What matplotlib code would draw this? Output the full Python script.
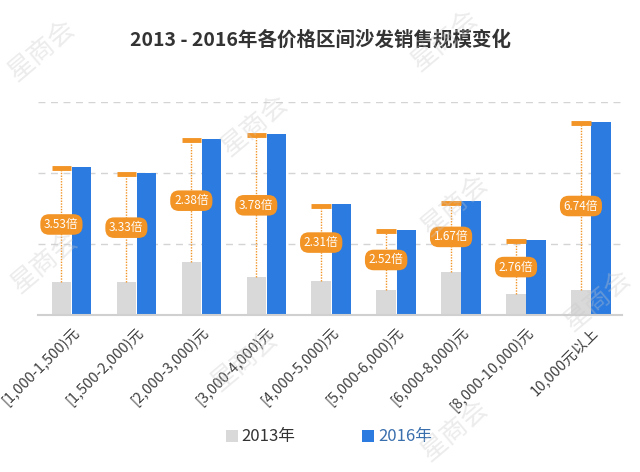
import numpy as np
import matplotlib
matplotlib.use('Agg')
from matplotlib import pyplot as plt

plt.rcParams['font.family'] = ['Noto Sans CJK SC', 'DejaVu Sans']

# Data (gridline spacing = 1 unit, no y labels shown)
categories = ['[1,000-1,500)元', '[1,500-2,000)元', '[2,000-3,000)元', '[3,000-4,000)元',
              '[4,000-5,000)元', '[5,000-6,000)元', '[6,000-8,000)元', '[8,000-10,000)元',
              '10,000元以上']
sales_2013 = [0.46, 0.46, 0.74, 0.54, 0.48, 0.35, 0.60, 0.29, 0.35]
sales_2016 = [2.09, 2.00, 2.48, 2.55, 1.56, 1.20, 1.60, 1.06, 2.72]
ratios = ['3.53倍', '3.33倍', '2.38倍', '3.78倍', '2.31倍', '2.52倍', '1.67倍', '2.76倍', '6.74倍']

gray = '#d9d9d9'
blue = '#2b7be0'
orange = '#f29426'

fig = plt.figure(figsize=(6.4, 4.72), dpi=100)
ax = fig.add_axes([38/640, 1 - 315/472, (622-38)/640, (315-102)/472])

x = np.arange(len(categories))
w = 0.30
ax.bar(x - 0.155, sales_2013, w, color=gray, zorder=2, label='2013年')
ax.bar(x + 0.155, sales_2016, w, color=blue, zorder=2, label='2016年')

# orange markers: dotted line from 2013 top up to 2016 level, with ratio label
for i in range(len(categories)):
    xc = x[i] - 0.155
    ax.plot([xc, xc], [sales_2013[i], sales_2016[i]], color=orange, lw=1,
            ls=(0, (1, 1)), zorder=3)
    ax.plot([xc - 0.15, xc + 0.15], [sales_2016[i] - 0.02] * 2, color=orange,
            lw=3.5, solid_capstyle='butt', zorder=3)
    ymid = (sales_2013[i] + sales_2016[i]) / 2
    ax.text(xc, ymid, ratios[i], ha='center', va='center', color='white', fontsize=8.5,
            zorder=4, bbox=dict(boxstyle='round,pad=0.32,rounding_size=0.75',
                                fc=orange, ec='none'))

ax.set_xlim(-0.516, 8.477)
ax.set_ylim(0, 3)
ax.set_yticks([1, 2, 3])
ax.yaxis.grid(True, color='#d4d4d4', ls=(0, (5, 4)), lw=1, zorder=0)
ax.tick_params(axis='y', left=False, labelleft=False)
ax.tick_params(axis='x', length=0, pad=7)
for s in ['top', 'right', 'left']:
    ax.spines[s].set_visible(False)
ax.spines['bottom'].set_color('#d0d0d0')
ax.spines['bottom'].set_linewidth(1.5)
ax.set_xticks(x)
ax.set_xticklabels(categories, rotation=45, ha='right', rotation_mode='anchor',
                   fontsize=10.5, color='#404040')

fig.text(0.5, 1 - 40/472, '2013 - 2016年各价格区间沙发销售规模变化', ha='center',
         va='center', fontsize=14, fontweight='bold', color='#333333')

# legend
leg = fig.legend(loc='center', bbox_to_anchor=(0.514, 1 - 437/472), ncol=2,
                 frameon=False, fontsize=12, handlelength=0.7, handleheight=0.7,
                 handletextpad=0.25, columnspacing=4.0)
leg.get_texts()[0].set_color('#333333')
leg.get_texts()[1].set_color('#3a6fae')

# watermarks
marks = [(42, 50), (445, 40), (255, 125), (45, 262), (455, 205), (245, 360),
         (455, 430), (598, 300)]
for mx, my in marks:
    fig.text(mx/640, 1 - my/472, '星商会', fontsize=19, color='#c8c8c8', alpha=0.35,
             rotation=40, ha='center', va='center', zorder=10)

fig.savefig('out.png', dpi=100)
